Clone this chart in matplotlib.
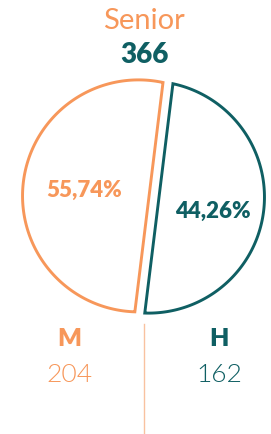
import numpy as np
import matplotlib.pyplot as plt
from matplotlib.patches import Polygon

plt.rcParams['font.family'] = ['Lato', 'DejaVu Sans']

# data
title = 'Senior'
groups = ['M', 'H']
counts = [204, 162]
colors = ['#F7975A', '#0F5F63']
line_color = '#F9C2A0'

total = sum(counts)
shares = [c / total for c in counts]

# the circle is cut by a straight chord: find the segment angle for the H share
lo, hi = 0.0, 2 * np.pi
for _ in range(60):
    mid = (lo + hi) / 2
    if (mid - np.sin(mid)) / (2 * np.pi) < shares[1]:
        lo = mid
    else:
        hi = mid
half = lo / 2

cx, cy, r = 143.5, 197.5, 116
tilt = np.deg2rad(-7)
gap = 5

fig = plt.figure(figsize=(2.71, 4.35), dpi=100)
ax = fig.add_axes([0, 0, 1, 1])
ax.set_xlim(0, 271)
ax.set_ylim(435, 0)
ax.axis('off')

spans = [(tilt + half, tilt + 2 * np.pi - half, -gap),
         (tilt - half, tilt + half, gap)]
for (a0, a1, off), col in zip(spans, colors):
    a = np.linspace(a0, a1, 400)
    x = cx + off * np.cos(tilt) + r * np.cos(a)
    y = cy - off * np.sin(tilt) - r * np.sin(a)
    ax.add_patch(Polygon(np.column_stack([x, y]), closed=True, fc='white',
                         ec=col, lw=2.1, joinstyle='miter'))

# percentages inside
pct = [f'{s * 100:.2f}%'.replace('.', ',') for s in shares]
ax.text(84, 197, pct[0], color=colors[0], fontsize=16, fontweight='heavy',
        ha='center', va='baseline')
ax.text(213, 218, pct[1], color=colors[1], fontsize=16, fontweight='heavy',
        ha='center', va='baseline')

# header
ax.text(144, 29, title, color=colors[0], fontsize=21, ha='center', va='baseline')
ax.text(144.5, 63, str(total), color=colors[1], fontsize=20, fontweight='heavy',
        ha='center', va='baseline')

# bottom labels
for xpos, g, c, col in zip([69, 219], groups, counts, colors):
    ax.text(xpos, 346, g, color=col, fontsize=18, fontweight='heavy',
            ha='center', va='baseline')
    ax.text(xpos, 382, str(c), color=col, fontsize=19, fontweight=300,
            ha='center', va='baseline')

ax.plot([144, 144], [325, 435], color=line_color, lw=1.0)

fig.savefig('out.png', dpi=100)
